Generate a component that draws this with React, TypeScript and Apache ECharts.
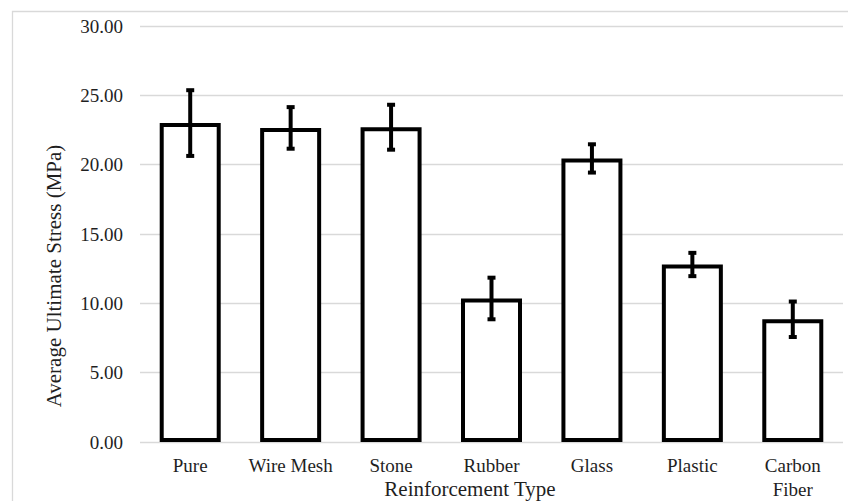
import React, { useEffect, useRef } from "react";
import * as echarts from "echarts";

const categories = ["Pure", "Wire Mesh", "Stone", "Rubber", "Glass", "Plastic", "Carbon\nFiber"];
const meanStress = [23.0, 22.65, 22.7, 10.35, 20.45, 12.8, 8.85];
const stressError = [2.37, 1.5, 1.62, 1.5, 1.02, 0.84, 1.28];
const yTicks = [0, 5, 10, 15, 20, 25, 30];

const FONT = "'Liberation Serif', 'Times New Roman', serif";
const TEXT = "#1f1f1f";

export default function App() {
  const ref = useRef<HTMLDivElement>(null);

  useEffect(() => {
    if (!ref.current) return;
    const chart = echarts.init(ref.current, undefined, { renderer: "svg" });

    const errorData = meanStress.map((m, i) => [i, m - stressError[i], m + stressError[i]]);

    chart.setOption({
      animation: false,
      backgroundColor: "#ffffff",
      grid: { left: 140, right: 5, top: 26, bottom: 59, containLabel: false },
      xAxis: {
        type: "category",
        data: categories,
        axisLine: { show: false },
        axisTick: { show: false },
        axisLabel: {
          color: TEXT,
          fontFamily: FONT,
          fontSize: 19,
          lineHeight: 24,
          margin: 11,
          interval: 0,
        },
      },
      yAxis: {
        type: "value",
        min: yTicks[0],
        max: yTicks[yTicks.length - 1],
        interval: 5,
        axisLine: { show: false },
        axisTick: { show: false },
        splitLine: { lineStyle: { color: "#d9d9d9", width: 1.3 } },
        axisLabel: {
          color: TEXT,
          fontFamily: FONT,
          fontSize: 19,
          margin: 17,
          formatter: (v: number) => v.toFixed(2),
        },
      },
      graphic: [
        {
          type: "rect",
          silent: true,
          shape: { x: 12.5, y: 11.5, width: 900, height: 600 },
          style: { fill: "none", stroke: "#d9d9d9", lineWidth: 1.3 },
        },
        {
          type: "text",
          x: 54,
          y: 276,
          rotation: Math.PI / 2,
          style: {
            text: "Average Ultimate Stress (MPa)",
            fill: TEXT,
            font: `21px ${FONT}`,
            textAlign: "center",
            textVerticalAlign: "middle",
          },
        },
        {
          type: "text",
          x: 470,
          y: 489,
          style: {
            text: "Reinforcement Type",
            fill: TEXT,
            font: `21px ${FONT}`,
            textAlign: "center",
            textVerticalAlign: "middle",
          },
        },
      ],
      series: [
        {
          type: "bar",
          data: meanStress,
          barWidth: 61,
          itemStyle: { color: "#ffffff", borderColor: "#000000", borderWidth: 4 },
        },
        {
          type: "custom",
          data: errorData,
          z: 10,
          renderItem: (params: any, api: any) => {
            const idx = api.value(0);
            const lo = api.coord([idx, api.value(1)]);
            const hi = api.coord([idx, api.value(2)]);
            const half = 4;
            const style = { stroke: "#000000", lineWidth: 4 };
            return {
              type: "group",
              children: [
                { type: "line", shape: { x1: hi[0], y1: hi[1], x2: lo[0], y2: lo[1] }, style },
                { type: "line", shape: { x1: hi[0] - half, y1: hi[1], x2: hi[0] + half, y2: hi[1] }, style },
                { type: "line", shape: { x1: lo[0] - half, y1: lo[1], x2: lo[0] + half, y2: lo[1] }, style },
              ],
            };
          },
        },
      ],
    });

    return () => chart.dispose();
  }, []);

  return (
    <div
      ref={ref}
      style={{ position: "fixed", left: 0, top: 0, width: 848, height: 501, background: "#fff" }}
    />
  );
}
